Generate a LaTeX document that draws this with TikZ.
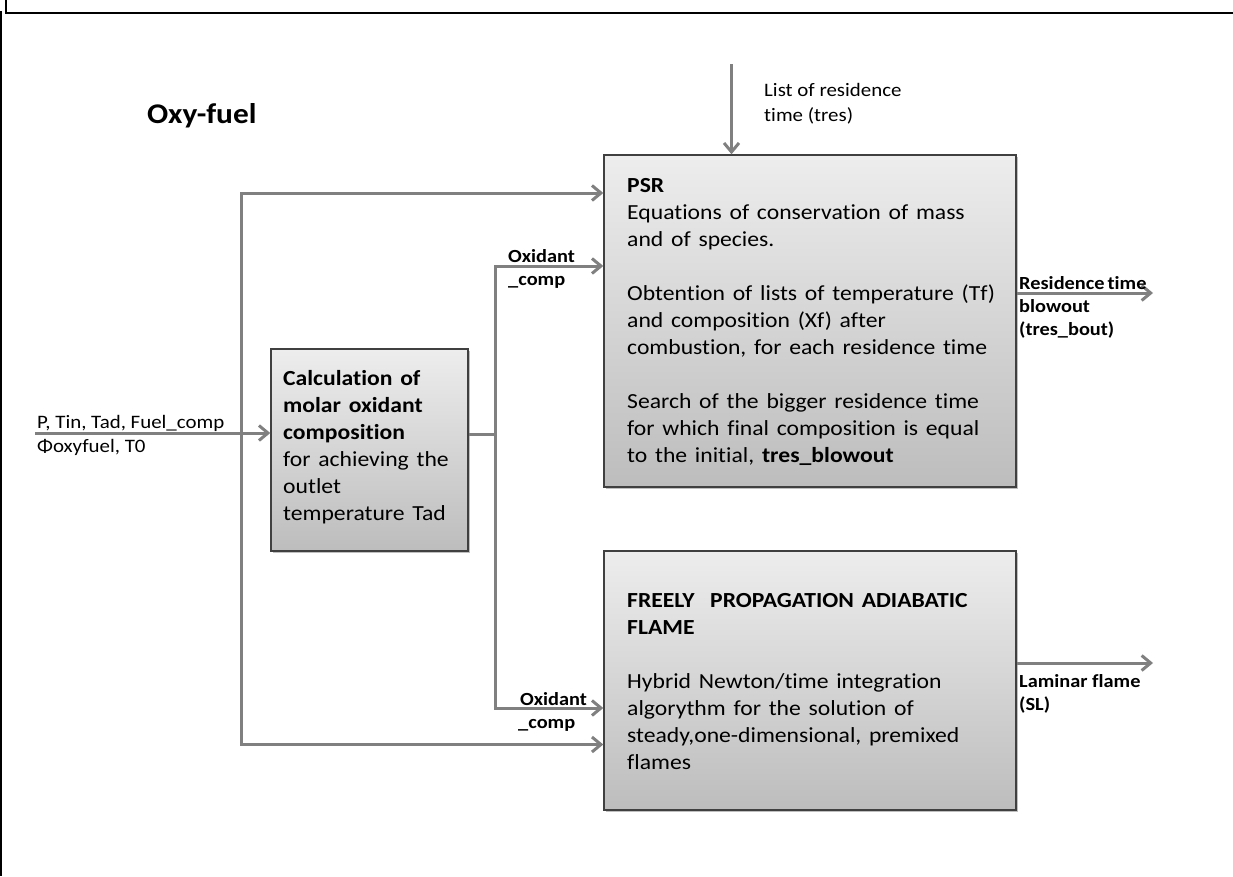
\documentclass[tikz,border=0pt]{standalone}
\usepackage{fontspec}
\setmainfont{Carlito}[FakeStretch=1.1,Ligatures={NoCommon}]
\newfontfamily\boxfont{Carlito}[FakeStretch=1.1,WordSpace=1.45,Ligatures={NoCommon}]
\usetikzlibrary{arrows.meta,shadows}
\definecolor{lin}{RGB}{128,128,128}
\definecolor{bord}{RGB}{64,64,64}
\begin{document}
\begin{tikzpicture}[x=1pt,y=-1pt,
  conn/.style={draw=lin,line width=3pt},
  barb/.tip={Straight Barb[length=9pt,width=15pt,line width=3pt]},
  procbox/.style={draw=bord,line width=1.4pt,top color=black!7,bottom color=black!26,
    drop shadow={shadow xshift=2pt,shadow yshift=-2pt,fill=black,opacity=0.25},
    inner sep=0pt},
  boxtext/.style={anchor=base west,align=left,inner sep=0pt,font=\boxfont\fontsize{21.5}{27}\selectfont},
  lbl/.style={anchor=base west,align=left,inner sep=0pt,font=\fontsize{19}{25}\selectfont},
  blbl/.style={anchor=base west,align=left,inner sep=0pt,font=\fontsize{18.5}{23}\selectfont\bfseries}]
\useasboundingbox (0,0) rectangle (1233,876);
% frame
\draw[black,line width=2pt] (5.5,0) -- (5.5,12.5) -- (1233,12.5);
\draw[black,line width=2pt] (0.8,11) -- (0.8,876);
% title
\node[anchor=base west,inner sep=0pt,font=\fontsize{28.5}{32}\selectfont\bfseries] (title) at (147,123) {Oxy-fuel};
% boxes
\node[procbox,minimum width=197pt,minimum height=202pt] (calc) at (369.5,450) {};
\node[procbox,minimum width=412pt,minimum height=332pt] (psr) at (810,321) {};
\node[procbox,minimum width=412pt,minimum height=259pt] (flame) at (810,680.5) {};
% box texts (base anchor = last line's baseline)
\node[boxtext] (calctxt) at (283,520) {\textbf{Calculation of}\\\textbf{molar oxidant}\\\textbf{composition}\\for achieving the\\outlet\\temperature Tad};
\node[boxtext] (psrtxt) at (627,462) {\textbf{PSR}\\Equations of conservation of mass\\and of species.\\[27pt]Obtention of lists of temperature (Tf)\\and composition (Xf) after\\combustion, for each residence time\\[27pt]Search of the bigger residence time\\for which final composition is equal\\to the initial, \textbf{tres\_blowout}};
\node[boxtext] (flametxt) at (627,769) {\textbf{FREELY\ \ PROPAGATION ADIABATIC}\\\textbf{FLAME}\\[27pt]Hybrid Newton/time integration\\algorythm for the solution of\\steady,one-dimensional, premixed\\flames};
% coordinates
\coordinate (inA) at (35,433);
\coordinate (trunkT) at (241,193);
\coordinate (trunkB) at (241,744.5);
\coordinate (split) at (495.5,434);
\coordinate (splitT) at (495.5,266);
\coordinate (splitB) at (495.5,708);
\coordinate (topIn) at (731.5,64);
\coordinate (psrOut) at (1153,293);
\coordinate (flOut) at (1153,663);
% connectors
\draw[conn,-barb] (inA) -- (inA -| calc.west);
\draw[conn,barb-barb,line join=miter] (trunkT -| psr.west) -- (trunkT) -- (trunkB) -- (trunkB -| flame.west);
\draw[conn] (calc.east |- split) -- (split);
\draw[conn,barb-barb,line join=miter] (splitT -| psr.west) -- (splitT) -- (splitB) -- (splitB -| flame.west);
\draw[conn,-barb] (topIn) -- (topIn |- psr.north);
\draw[conn,-barb] (psrOut -| psr.east) -- (psrOut);
\draw[conn,-barb] (flOut -| flame.east) -- (flOut);
% labels
\node[lbl] (inlbl) at (37,428) {P, Tin, Tad, Fuel\_comp};
\node[lbl] (inlbl2) at (37,452) {Φoxyfuel, T0};
\node[lbl] (toplbl) at (764,121) {List of residence\\time (tres)};
\node[blbl] (ox1) at (508,285) {Oxidant\\\_comp};
\node[blbl] (ox2) at (520,705) {Oxidant};
\node[blbl] (ox2b) at (518,728) {\_comp};
\node[blbl] (reslbl) at (1019,335) {Residence\,time\\blowout\\(tres\_bout)};
\node[blbl] (lamlbl) at (1019,710) {Laminar flame\\(SL)};
\end{tikzpicture}
\end{document}
